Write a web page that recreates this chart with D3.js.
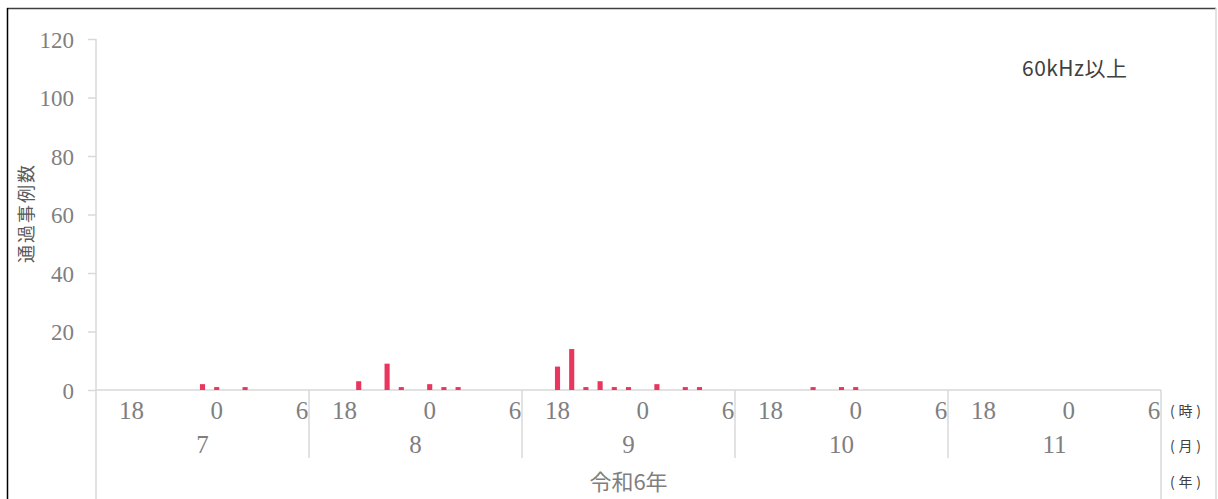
<!DOCTYPE html>
<html>
<head>
<meta charset="utf-8">
<script src="https://cdn.jsdelivr.net/npm/d3@7"></script>
<style>
  body { margin: 0; background: #fff; }
  svg { display: block; }
  .num { font-family: 'Liberation Serif', 'DejaVu Serif', serif; fill: #7f7f7f; }
  .jp { font-family: 'Noto Sans CJK JP', sans-serif; }
</style>
</head>
<body>
<svg width="1218" height="499"></svg>
<script>
// nights (month), hour bins 16..6, counts per bin
const months = [7, 8, 9, 10, 11];
const hours = [16, 17, 18, 19, 20, 21, 22, 23, 0, 1, 2, 3, 4, 5, 6];
const hourLabels = [18, 0, 6];
const counts = {
  7:  [0, 0, 0, 0, 0, 0, 0, 2, 1, 0, 1, 0, 0, 0, 0],
  8:  [0, 0, 0, 3, 0, 9, 1, 0, 2, 1, 1, 0, 0, 0, 0],
  9:  [0, 0, 8, 14, 1, 3, 1, 1, 0, 2, 0, 1, 1, 0, 0],
  10: [0, 0, 0, 0, 0, 1, 0, 1, 1, 0, 0, 0, 0, 0, 0],
  11: [0, 0, 0, 0, 0, 0, 0, 0, 0, 0, 0, 0, 0, 0, 0],
};
const yTicks = [0, 20, 40, 60, 80, 100, 120];
const unitLabels = ['(時)', '(月)', '(年)'];
const yearLabel = '令和6年';
const seriesName = '60kHz以上';
const yTitle = '通過事例数';

const svg = d3.select('svg');
const plotLeft = 96, plotRight = 1161, plotTop = 39, base = 390;
const axisColor = '#d9d9d9';

const y = d3.scaleLinear().domain([0, 120]).range([base, plotTop]);
const xNight = d3.scaleBand().domain(months).range([plotLeft, plotRight]);
const xHour = d3.scaleBand().domain(hours).range([0, xNight.bandwidth()])
  .paddingInner(0.64).paddingOuter(0.32);

// outer frame
svg.append('line').attr('x1', 7).attr('x2', 1216).attr('y1', 8.5).attr('y2', 8.5)
  .attr('stroke', '#404040').attr('stroke-width', 1.5);
svg.append('line').attr('x1', 7.5).attr('x2', 7.5).attr('y1', 8).attr('y2', 499)
  .attr('stroke', '#000').attr('stroke-width', 1.5);
svg.append('line').attr('x1', 1216).attr('x2', 1216).attr('y1', 8).attr('y2', 499)
  .attr('stroke', axisColor).attr('stroke-width', 1.5);

// y axis
const yAxis = svg.append('g')
  .attr('transform', `translate(${plotLeft},0)`)
  .call(d3.axisLeft(y).tickValues(yTicks).tickSize(8).tickPadding(14));
yAxis.select('.domain').attr('stroke', axisColor).attr('stroke-width', 1.5)
  .attr('d', `M0,${plotTop}V${base}`);
yAxis.selectAll('.tick line').attr('stroke', axisColor).attr('stroke-width', 1.5);
yAxis.selectAll('.tick text')
  .attr('class', 'num')
  .attr('font-size', 23)
  .attr('dy', '0.36em')
  .attr('fill', '#7f7f7f');

svg.append('text')
  .attr('class', 'jp')
  .attr('transform', `translate(33,213) rotate(-90)`)
  .attr('text-anchor', 'middle')
  .attr('font-size', 18)
  .attr('letter-spacing', 2)
  .attr('fill', '#595959')
  .text(yTitle);

// x axis baseline and separators
svg.append('line').attr('x1', plotLeft).attr('x2', plotRight).attr('y1', base).attr('y2', base)
  .attr('stroke', axisColor).attr('stroke-width', 1.5);
const seps = months.map(m => xNight(m)).concat([plotRight]);
svg.append('g').selectAll('line')
  .data(seps)
  .enter().append('line')
  .attr('x1', d => d).attr('x2', d => d)
  .attr('y1', base)
  .attr('y2', (d, i) => (i === 0 || i === seps.length - 1) ? 499 : 458)
  .attr('stroke', axisColor).attr('stroke-width', 1.5);

// bars
const nights = svg.append('g').selectAll('g')
  .data(months)
  .enter().append('g')
  .attr('transform', m => `translate(${xNight(m)},0)`);

nights.selectAll('rect')
  .data(m => hours.map((h, i) => ({ h, v: counts[m][i] })).filter(d => d.v > 0))
  .enter().append('rect')
  .attr('x', d => xHour(d.h))
  .attr('width', xHour.bandwidth())
  .attr('y', d => y(d.v))
  .attr('height', d => base - y(d.v))
  .attr('fill', '#e8365f');

nights.selectAll('text.hour')
  .data(hourLabels)
  .enter().append('text')
  .attr('class', 'num hour')
  .attr('x', h => xHour(h) + xHour.bandwidth() / 2)
  .attr('y', 419)
  .attr('text-anchor', 'middle')
  .attr('font-size', 25)
  .text(h => h);

nights.append('text')
  .attr('class', 'num')
  .attr('x', xNight.bandwidth() / 2)
  .attr('y', 453)
  .attr('text-anchor', 'middle')
  .attr('font-size', 25)
  .text(m => m);

svg.append('text')
  .attr('class', 'jp')
  .attr('x', (plotLeft + plotRight) / 2)
  .attr('y', 490)
  .attr('text-anchor', 'middle')
  .attr('font-size', 22)
  .attr('fill', '#7f7f7f')
  .text(yearLabel);

// unit labels on the right
const unitY = [416, 451, 487];
svg.append('g').selectAll('text')
  .data(unitLabels)
  .enter().append('text')
  .attr('class', 'jp')
  .attr('x', 1170)
  .attr('y', (d, i) => unitY[i])
  .attr('font-size', 14)
  .attr('textLength', 31)
  .attr('fill', '#404040')
  .text(d => d);

// series label
svg.append('text')
  .attr('class', 'jp')
  .attr('x', 1022)
  .attr('y', 76)
  .attr('font-size', 21)
  .attr('textLength', 105)
  .attr('fill', '#404040')
  .text(seriesName);
</script>
</body>
</html>
